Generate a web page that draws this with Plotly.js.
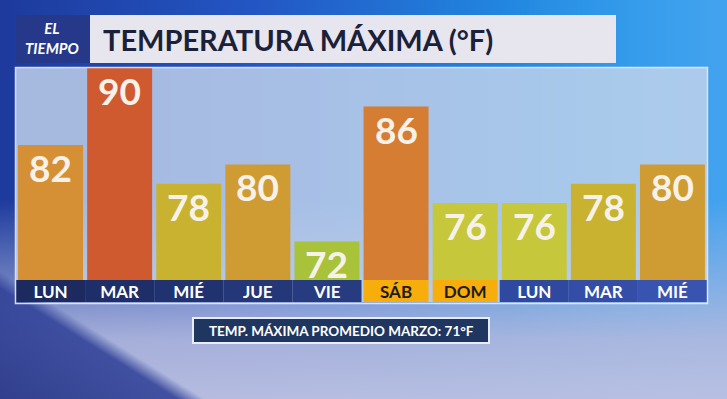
<!DOCTYPE html>
<html>
<head>
<meta charset="utf-8">
<script src="https://cdn.plot.ly/plotly-3.0.1.min.js"></script>
<style>
  html, body { margin:0; padding:0; }
  body {
    width:727px; height:399px; overflow:hidden;
    background:
      linear-gradient(32deg, rgba(38,52,135,0.92) 0%, rgba(45,62,150,0.85) 13%, rgba(0,0,0,0) 15%),
      linear-gradient(to bottom, rgba(0,0,0,0) 50%, rgba(180,186,222,0.9) 85%, rgba(190,194,226,0.95) 100%),
      linear-gradient(to right, rgba(0,0,0,0) 70%, rgba(90,160,235,0.6) 100%),
      linear-gradient(to right, #1d3a9c 0%, #2356c4 35%, #2187e0 70%, #22a6f3 100%);
  }
  #chart { width:727px; height:399px; }
</style>
</head>
<body>
<div id="chart"></div>
<script>
// ---- data ----
const days   = ["LUN", "MAR", "MIÉ", "JUE", "VIE", "SÁB", "DOM", "LUN", "MAR", "MIÉ"];
const temps  = [82, 90, 78, 80, 72, 86, 76, 76, 78, 80];
const title  = "TEMPERATURA MÁXIMA (°F)";
const footer = "TEMP. MÁXIMA PROMEDIO MARZO: 71°F";
const logo   = "EL<br>TIEMPO";

// ---- styles ----
const barColors = ["#d58f35","#cf5a30","#c9b22f","#cf9c33","#a8c23a","#d67d34","#c6c73a","#c6c73a","#c9b22f","#cf9c33"];
const bandColors = ["#1c2a60","#1e2e68","#213270","#243778","#273c80","#f7ad0c","#f7ad0c","#3049a0","#344ea8","#3853b0"];
const bandText   = ["#ffffff","#ffffff","#ffffff","#ffffff","#ffffff","#1b1b1b","#1b1b1b","#ffffff","#ffffff","#ffffff"];
const bandWidth  = [1,1,1,1,1,0.94,0.94,1,1,1];

const W = 727, H = 399;
const BASE = 68;       // bar baseline value
const YMIN = 65.72;    // bottom of label band
const YMAX = 90;
const px = v => v / W;
const py = v => 1 - v / H;
const FONT = "Lato, 'Open Sans', sans-serif";

const xs = days.map((d, i) => i);

const bars = {
  type: "bar",
  x: xs,
  y: temps.map(t => t - BASE),
  base: BASE,
  width: 0.94,
  marker: { color: barColors, line: { width: 0 } },
  hoverinfo: "skip"
};

const band = {
  type: "bar",
  x: xs,
  y: days.map(() => BASE - YMIN),
  base: YMIN,
  width: bandWidth,
  marker: { color: bandColors, line: { width: 0 } },
  text: days,
  textposition: "inside",
  insidetextanchor: "middle",
  constraintext: "none",
  textangle: 0,
  textfont: { family: FONT, size: 17, weight: 700, color: bandText },
  hoverinfo: "skip"
};

// value labels at the top of each bar
const valueLabels = temps.map((t, i) => ({
  xref: "x", yref: "y", x: xs[i], y: t,
  xanchor: "center", yanchor: "top", yshift: 2,
  text: String(t), showarrow: false,
  font: { family: FONT, size: 37, weight: 700, color: "#f6f2ea" }
}));

const layout = {
  width: W, height: H,
  margin: { l: 0, r: 0, t: 0, b: 0 },
  paper_bgcolor: "rgba(0,0,0,0)",
  plot_bgcolor: "rgba(196,212,236,0.82)",
  showlegend: false,
  barmode: "overlay",
  xaxis: {
    domain: [px(16), px(707)],
    range: [-0.5, days.length - 0.5],
    showticklabels: false, showgrid: false, zeroline: false, fixedrange: true
  },
  yaxis: {
    domain: [py(302), py(68)],
    range: [YMIN, YMAX],
    showticklabels: false, showgrid: false, zeroline: false, fixedrange: true
  },
  shapes: [
    { type: "rect", xref: "paper", yref: "paper", x0: px(15.5), x1: px(707.5), y0: py(303.5), y1: py(67.5),
      line: { color: "rgba(230,236,248,0.9)", width: 1.5 }, fillcolor: "rgba(0,0,0,0)", layer: "above" },
    { type: "rect", xref: "paper", yref: "paper", x0: px(16), x1: px(90), y0: py(63), y1: py(15),
      line: { width: 0 }, fillcolor: "#25388a" },
    { type: "rect", xref: "paper", yref: "paper", x0: px(90), x1: px(616), y0: py(63), y1: py(15),
      line: { width: 0 }, fillcolor: "#e7e5ee" },
    { type: "rect", xref: "paper", yref: "paper", x0: px(193), x1: px(489), y0: py(343), y1: py(318),
      line: { color: "#e8ecf6", width: 2 }, fillcolor: "#1f3660" }
  ],
  annotations: valueLabels.concat([
    { xref: "paper", yref: "paper", x: px(101), y: py(39), xanchor: "left", yanchor: "middle",
      text: title, showarrow: false,
      font: { family: FONT, size: 29, weight: 700, color: "#1b2138" } },
    { xref: "paper", yref: "paper", x: px(52), y: py(38), xanchor: "center", yanchor: "middle",
      text: "<i>" + logo + "</i>", showarrow: false, align: "center",
      font: { family: FONT, size: 15, weight: 700, color: "#ffffff" } },
    { xref: "paper", yref: "paper", x: px(341), y: py(330.5), xanchor: "center", yanchor: "middle",
      text: footer, showarrow: false,
      font: { family: FONT, size: 13.5, weight: 700, color: "#ffffff" } }
  ])
};

Plotly.newPlot("chart", [bars, band], layout, { displayModeBar: false, staticPlot: true });
</script>
</body>
</html>
